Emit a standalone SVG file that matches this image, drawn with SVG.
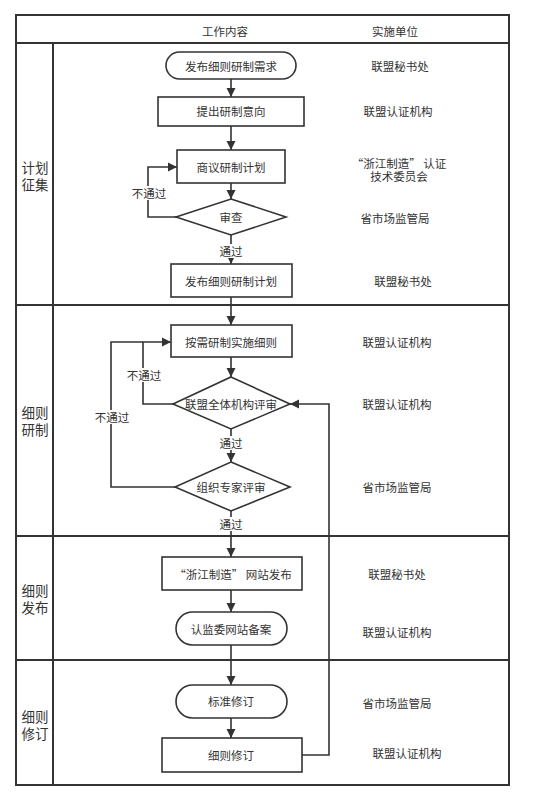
<svg xmlns="http://www.w3.org/2000/svg" width="543" height="797" viewBox="0 0 543 797">
<style>
text{font-family:"Noto Sans CJK SC","Noto Sans",sans-serif;font-size:11.5px;fill:#333;text-anchor:middle;dominant-baseline:central}
.sec{font-size:13.5px}
.frame{fill:none;stroke:#333;stroke-width:2}
.box{fill:#fff;stroke:#333;stroke-width:1.6}
.con{fill:none;stroke:#333;stroke-width:1.6}
.lbl{fill:#fff}
</style>
<defs>
<marker id="ah" viewBox="0 0 10 10" refX="10" refY="5" markerWidth="9" markerHeight="10" markerUnits="userSpaceOnUse" orient="auto">
<path d="M0,0 L10,5 L0,10 Z" fill="#333"/>
</marker>
</defs>
<rect width="543" height="797" fill="#fff"/>
<g id="frame">
<rect class="frame" x="16" y="15" width="493" height="770"/>
<line class="frame" x1="16" y1="43" x2="509" y2="43"/>
<line class="frame" x1="53" y1="43" x2="53" y2="785"/>
<line class="frame" x1="16" y1="305" x2="509" y2="305"/>
<line class="frame" x1="16" y1="536" x2="509" y2="536"/>
<line class="frame" x1="16" y1="660" x2="509" y2="660"/>
<text x="225" y="31">工作内容</text>
<text x="395" y="31">实施单位</text>
<text class="sec" x="35" y="166.5">计划<tspan x="35" dy="17">征集</tspan></text>
<text class="sec" x="35" y="411.5">细则<tspan x="35" dy="17">研制</tspan></text>
<text class="sec" x="35" y="589.5">细则<tspan x="35" dy="17">发布</tspan></text>
<text class="sec" x="35" y="715.5">细则<tspan x="35" dy="17">修订</tspan></text>
</g>
<g id="connectors">
<line class="con" x1="231" y1="79" x2="231" y2="97" marker-end="url(#ah)"/>
<line class="con" x1="231" y1="126" x2="231" y2="150" marker-end="url(#ah)"/>
<line class="con" x1="231" y1="183" x2="231" y2="199" marker-end="url(#ah)"/>
<polyline class="con" points="176,217 148,217 148,167 177,167" marker-end="url(#ah)"/>
<line class="con" x1="231" y1="235" x2="231" y2="264" marker-end="url(#ah)"/>
<line class="con" x1="231" y1="297" x2="231" y2="325" marker-end="url(#ah)"/>
<line class="con" x1="231" y1="357" x2="231" y2="377" marker-end="url(#ah)"/>
<polyline class="con" points="173,404 143,404 143,342 171,342" marker-end="url(#ah)"/>
<polyline class="con" points="175,487 111,487 111,342 143,342"/>
<line class="con" x1="231" y1="429" x2="231" y2="462" marker-end="url(#ah)"/>
<line class="con" x1="231" y1="511" x2="231" y2="557" marker-end="url(#ah)"/>
<line class="con" x1="231" y1="590" x2="231" y2="612" marker-end="url(#ah)"/>
<line class="con" x1="231" y1="645" x2="231" y2="685" marker-end="url(#ah)"/>
<line class="con" x1="231" y1="718" x2="231" y2="738" marker-end="url(#ah)"/>
<polyline class="con" points="302,755 329,755 329,404 290,404" marker-end="url(#ah)"/>
<rect class="lbl" x="219" y="244" width="24" height="14"/>
<text x="231" y="251">通过</text>
<rect class="lbl" x="219" y="436" width="24" height="14"/>
<text x="231" y="443">通过</text>
<rect class="lbl" x="219" y="517" width="24" height="14"/>
<text x="231" y="524">通过</text>
<rect class="lbl" x="131" y="186" width="36" height="14"/>
<text x="149" y="193">不通过</text>
<rect class="lbl" x="126" y="368" width="36" height="14"/>
<text x="144" y="375">不通过</text>
<rect class="lbl" x="94" y="410" width="36" height="14"/>
<text x="112" y="417">不通过</text>
</g>
<g id="n1">
<rect class="box" x="166" y="52" width="130" height="27" rx="13.5"/>
<text x="231" y="66">发布细则研制需求</text>
<text x="400" y="66">联盟秘书处</text>
</g>
<g id="n2">
<rect class="box" x="158" y="97" width="146" height="29"/>
<text x="231" y="111">提出研制意向</text>
<text x="398" y="111">联盟认证机构</text>
</g>
<g id="n3">
<rect class="box" x="177" y="150" width="108" height="33"/>
<text x="231" y="167">商议研制计划</text>
<text x="399" y="163">“浙江制造” 认证<tspan x="399" dy="12.5">技术委员会</tspan></text>
</g>
<g id="n4">
<polygon class="box" points="231,199 286,217 231,235 176,217"/>
<text x="231" y="217">审查</text>
<text x="395" y="218">省市场监管局</text>
</g>
<g id="n5">
<rect class="box" x="171" y="264" width="121" height="33"/>
<text x="231" y="281">发布细则研制计划</text>
<text x="403" y="281">联盟秘书处</text>
</g>
<g id="n6">
<rect class="box" x="171" y="325" width="121" height="32"/>
<text x="231" y="342">按需研制实施细则</text>
<text x="397" y="342">联盟认证机构</text>
</g>
<g id="n7">
<polygon class="box" points="231,377 290,404 231,429 173,404"/>
<text x="231" y="404">联盟全体机构评审</text>
<text x="397" y="404">联盟认证机构</text>
</g>
<g id="n8">
<polygon class="box" points="231,462 290,487 231,511 175,487"/>
<text x="231" y="487">组织专家评审</text>
<text x="397" y="487">省市场监管局</text>
</g>
<g id="n9">
<rect class="box" x="162" y="557" width="140" height="33"/>
<text x="233" y="574">“浙江制造” 网站发布</text>
<text x="397" y="574">联盟秘书处</text>
</g>
<g id="n10">
<rect class="box" x="176" y="612" width="111" height="33" rx="16.5"/>
<text x="231" y="629">认监委网站备案</text>
<text x="397" y="632">联盟认证机构</text>
</g>
<g id="n11">
<rect class="box" x="176" y="685" width="111" height="33" rx="16.5"/>
<text x="231" y="701">标准修订</text>
<text x="397" y="703">省市场监管局</text>
</g>
<g id="n12">
<rect class="box" x="162" y="738" width="140" height="34"/>
<text x="231" y="755">细则修订</text>
<text x="407" y="753">联盟认证机构</text>
</g>
</svg>
